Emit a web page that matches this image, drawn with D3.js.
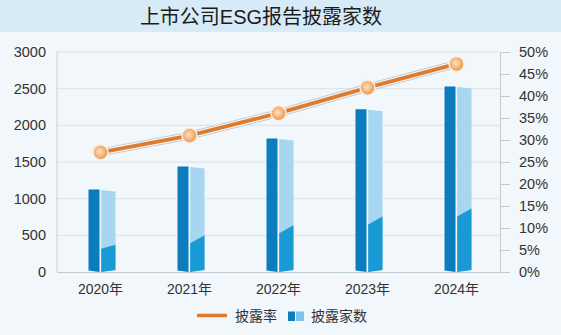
<!DOCTYPE html>
<html><head><meta charset="utf-8">
<script src="https://cdn.jsdelivr.net/npm/d3@7"></script>
<style>
html,body{margin:0;padding:0;background:#f1f7fb;}
text{font-family:"Liberation Sans","Noto Sans CJK SC",sans-serif;}
</style></head>
<body>
<svg id="c" width="561" height="335"></svg>
<script>
const years = ["2020年","2021年","2022年","2023年","2024年"];
const counts = [1125, 1440, 1820, 2220, 2530];
const lowerPart = [345, 447, 583, 703, 812];
const rates = [27.2, 31.0, 36.1, 41.9, 47.3];
const leftTicks = [0,500,1000,1500,2000,2500,3000];
const rightTicks = [0,5,10,15,20,25,30,35,40,45,50];
const title = "上市公司ESG报告披露家数";
const legendLabels = ["披露率","披露家数"];

const svg = d3.select("#c");
svg.append("rect").attr("width",561).attr("height",335).attr("fill","#f1f7fb");
svg.append("rect").attr("width",561).attr("height",32).attr("fill","#d6eaf7");
svg.append("text").attr("x",261).attr("y",24).attr("text-anchor","middle")
  .attr("font-size",20).attr("font-weight",400).attr("fill","#1b1b1b")
  .style("font-family","'Liberation Sans','Noto Sans CJK SC',sans-serif").text(title);

const x = d3.scaleBand().domain(years).range([56,501]);
const y = d3.scaleLinear().domain([0,3000]).range([272,52]);
const yr = d3.scaleLinear().domain([0,50]).range([272,52]);

svg.append("g").selectAll("line").data(leftTicks.slice(1)).join("line")
  .attr("x1",57).attr("x2",500).attr("y1",d=>y(d)).attr("y2",d=>y(d))
  .attr("stroke","#dce3e8").attr("stroke-width",1);
svg.append("line").attr("x1",57).attr("x2",57).attr("y1",52).attr("y2",272).attr("stroke","#c9d0d6");
svg.append("line").attr("x1",57).attr("x2",500).attr("y1",272.5).attr("y2",272.5).attr("stroke","#c2c9cf");

const la = svg.append("g").attr("transform","translate(57,0)")
  .call(d3.axisLeft(y).tickValues(leftTicks).tickSize(0).tickPadding(11).tickFormat(d3.format("d")));
la.attr("font-family","'Liberation Sans',Arial,sans-serif");
la.select(".domain").remove();
la.selectAll("text").attr("font-size",14.5).attr("fill","#333").style("font-family","'Liberation Sans',Arial,sans-serif");

const ra = svg.append("g").attr("transform","translate(500,0)")
  .call(d3.axisRight(yr).tickValues(rightTicks).tickSize(10).tickPadding(9).tickFormat(d=>d+"%"));
ra.attr("font-family","'Liberation Sans',Arial,sans-serif");
ra.select(".domain").attr("stroke","#c2c9cf");
ra.selectAll("line").attr("stroke","#c2c9cf");
ra.selectAll("text").attr("font-size",14.5).attr("fill","#333").style("font-family","'Liberation Sans',Arial,sans-serif");

const xa = svg.append("g").attr("transform","translate(0,272)")
  .call(d3.axisBottom(x).tickSize(0).tickPadding(12));
xa.attr("font-family","'Liberation Sans','Noto Sans CJK SC',sans-serif");
xa.select(".domain").remove();
xa.selectAll("text").attr("font-size",14).attr("fill","#333");

const bars = svg.append("g");
years.forEach((yrk,i)=>{
  const cx = x(yrk)+x.bandwidth()/2;
  const top = y(counts[i]);
  const base = y(0);
  const l0=cx-12, l1=cx-1, r0=cx+0.7, r1=cx+15;
  bars.append("path").attr("d",`M${l0},${top} L${l1},${top} L${l1},${base} L${l0},${base-1.5} Z`).attr("fill","#0b7dbd");
  bars.append("path").attr("d",`M${r0},${top+0.5} L${r1},${top+2} L${r1},${base-2} L${r0},${base} Z`).attr("fill","#a7d6f0");
  const lv = y(lowerPart[i]);
  const s = i===0?2:4;
  bars.append("path").attr("d",`M${r0},${lv+s} L${r1},${lv-s} L${r1},${base-2} L${r0},${base} Z`).attr("fill","#1a9ad5");
});

const pts = years.map((yk,i)=>[x(yk)+x.bandwidth()/2, yr(rates[i])]);
const lg = d3.line();
svg.append("path").attr("d",lg(pts)).attr("fill","none").attr("stroke","#c3ccd3").attr("stroke-width",8);
svg.append("path").attr("d",lg(pts)).attr("fill","none").attr("stroke","#f7f9fb").attr("stroke-width",6);
svg.append("path").attr("d",lg(pts)).attr("fill","none").attr("stroke","#e07a2c").attr("stroke-width",3.8);

const defs = svg.append("defs");
const rg = defs.append("radialGradient").attr("id","mk").attr("cx","45%").attr("cy","45%").attr("r","60%");
rg.append("stop").attr("offset","0%").attr("stop-color","#fde3c4");
rg.append("stop").attr("offset","55%").attr("stop-color","#f5b47a");
rg.append("stop").attr("offset","100%").attr("stop-color","#e8873a");
svg.append("g").selectAll("circle").data(pts).join("circle")
  .attr("cx",d=>d[0]).attr("cy",d=>d[1]).attr("r",7.5)
  .attr("fill","url(#mk)").attr("stroke","#fbeee2").attr("stroke-width",1.5);

const lgG = svg.append("g");
lgG.append("line").attr("x1",197).attr("x2",227).attr("y1",315.5).attr("y2",315.5).attr("stroke","#e07a2c").attr("stroke-width",3.5);
lgG.append("text").attr("x",235).attr("y",320.5).attr("font-size",14).attr("fill","#333").text(legendLabels[0]);
lgG.append("rect").attr("x",288).attr("y",311.5).attr("width",7).attr("height",9.5).attr("fill","#0b7dbd");
lgG.append("rect").attr("x",296).attr("y",311.5).attr("width",8).attr("height",9.5).attr("fill","#7cc3ec");
lgG.append("text").attr("x",311).attr("y",320.5).attr("font-size",14).attr("fill","#333").text(legendLabels[1]);
</script>
</body></html>
